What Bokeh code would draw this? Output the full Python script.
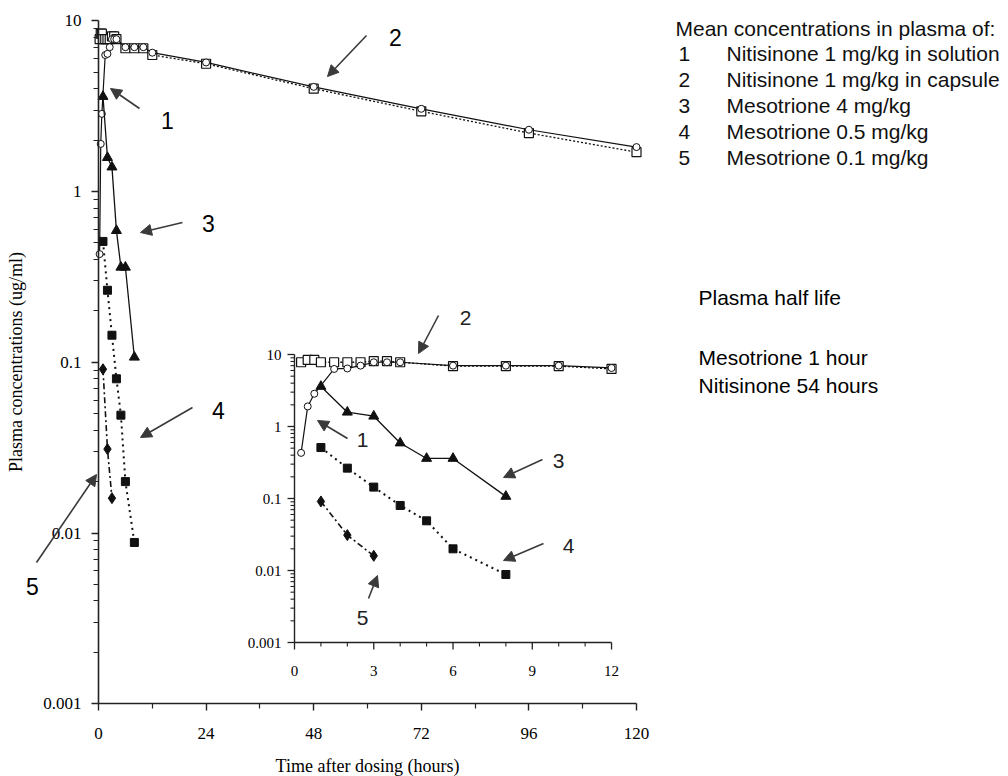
import numpy as np
from bokeh.plotting import figure
from bokeh.models import (Range1d, LogScale, FixedTicker, CustomJSTickFormatter,
                          Label, Arrow, NormalHead)
from bokeh.embed import file_html
from bokeh.resources import INLINE
from bokeh.core.properties import value

# ---------------- data ----------------
t_sol = [0.25, 0.5, 0.75, 1.5, 2, 2.5, 3, 3.5, 4, 6, 8, 10, 12, 24, 48, 72, 96, 120]
c_sol = [0.43, 1.9, 2.85, 6.3, 6.4, 7.0, 7.8, 7.8, 7.8, 7.0, 7.0, 7.0, 6.5, 5.7, 4.1, 3.05, 2.3, 1.82]
t_cap = [0.25, 0.5, 0.75, 1, 1.5, 2, 2.5, 3, 3.5, 4, 6, 8, 10, 12, 24, 48, 72, 96, 120]
c_cap = [7.8, 8.4, 8.4, 7.8, 7.8, 7.8, 7.8, 8.1, 8.1, 7.8, 6.9, 6.9, 6.9, 6.3, 5.6, 4.0, 2.95, 2.2, 1.7]
t_m4 = [1, 2, 3, 4, 5, 6, 8]
c_m4 = [3.6, 1.58, 1.39, 0.59, 0.36, 0.36, 0.107]
t_m05 = [1, 2, 3, 4, 5, 6, 8]
c_m05 = [0.51, 0.264, 0.144, 0.080, 0.049, 0.020, 0.0088]
t_m01 = [1, 2, 3]
c_m01 = [0.091, 0.031, 0.016]

main_x_ticks = [0, 24, 48, 72, 96, 120]
main_x_minor = [12, 36, 60, 84, 108]
y_ticks = [0.001, 0.01, 0.1, 1, 10]
y_tick_labels = ["0.001", "0.01", "0.1", "1", "10"]
inset_x_ticks = [0, 3, 6, 9, 12]
inset_x_labels = ["0", "3", "6", "9", "12"]
legend_title = "Mean concentrations in plasma of:"
legend_nums = ["1", "2", "3", "4", "5"]
legend_texts = ["Nitisinone 1 mg/kg in solution", "Nitisinone 1 mg/kg in capsule",
                "Mesotrione 4 mg/kg", "Mesotrione 0.5 mg/kg", "Mesotrione 0.1 mg/kg"]
half_life = ["Plasma half life", "Mesotrione 1 hour", "Nitisinone 54 hours"]

# ---------------- layout constants (page pixels) ----------------
W, H = 1008, 776              # canvas = frame
PL, PT = 0, 0                 # page position of the canvas
X0, PXH = 98.0, 4.4833        # main: page x of t=0, px per hour
Y1, PXD = 191.0, 170.75       # main: page y of 1 ug/ml, px per decade
IX0, IPXH = 294.0, 26.42      # inset: page x of t=0, px per hour
IY1, IPXD = 426.0, 72.0       # inset: page y of 1 ug/ml, px per decade

def mpt(X, Y):
    return (X - X0) / PXH, 10 ** ((Y1 - Y) / PXD)

def ipt(X, Y):
    return (X - IX0) / IPXH, 10 ** ((IY1 - Y) / IPXD)

mx0, my1 = mpt(PL, PT)
mx1, my0 = mpt(PL + W, PT + H)
ix0, iy1 = ipt(PL, PT)
ix1, iy0 = ipt(PL + W, PT + H)

SERIF = value("Liberation Serif")
INK = "#111111"

p = figure(frame_width=W, frame_height=H,
           x_range=Range1d(mx0, mx1), y_range=Range1d(my0, my1),
           y_axis_type="log", output_backend="svg", toolbar_location=None,
           min_border=0, min_border_left=0, min_border_right=0,
           min_border_top=0, min_border_bottom=0,
           background_fill_color="white", border_fill_color="white")
p.outline_line_color = None
p.grid.visible = False

p.extra_x_ranges = {"ix": Range1d(ix0, ix1)}
p.extra_y_ranges = {"iy": Range1d(iy0, iy1)}
p.extra_y_scales = {"iy": LogScale()}

# main axes (library axes pinned at t=0 and 0.001 ug/ml)
xa = p.xaxis[0]
xa.ticker = FixedTicker(ticks=main_x_ticks, minor_ticks=main_x_minor)
xa.bounds = (0, 120)
xa.fixed_location = 0.001
xa.axis_label = "Time after dosing (hours)"
ya = p.yaxis[0]
ya.ticker = FixedTicker(ticks=y_ticks,
                        minor_ticks=[k * 10.0 ** d for d in range(-3, 1) for k in range(2, 10)])
ya.formatter = CustomJSTickFormatter(code="return String(tick)")
ya.bounds = (0.001, 10)
ya.fixed_location = 0
ya.axis_label = "Plasma concentrations (ug/ml)"
for ax in (xa, ya):
    ax.axis_line_color = "#222222"
    ax.axis_line_width = 1.6
    ax.major_tick_line_color = "#222222"
    ax.minor_tick_line_color = "#222222"
    ax.major_tick_line_width = 1.4
    ax.minor_tick_line_width = 1.2
    ax.major_tick_in = 0
    ax.major_tick_out = 7
    ax.minor_tick_in = 0
    ax.minor_tick_out = 5
    ax.major_label_text_font = "Liberation Serif"
    ax.major_label_text_font_size = "17px"
    ax.major_label_text_color = "black"
    ax.axis_label_text_font = "Liberation Serif"
    ax.axis_label_text_font_size = "18px"
    ax.axis_label_text_font_style = "normal"
    ax.axis_label_text_color = "black"
xa.major_label_standoff = 17
xa.axis_label_standoff = 14
ya.major_label_standoff = 10
ya.axis_label_standoff = 14

# ---------------- series ----------------
def draw(rng, tmax, sz):
    kw = {} if rng is None else dict(x_range_name="ix", y_range_name="iy")
    def sel(t, c):
        tt = [a for a in t if a <= tmax]
        return tt, c[:len(tt)]
    t, c = sel(t_cap, c_cap)
    p.line(t, c, line_color=INK, line_width=1.3, line_dash="2 2", **kw)
    p.scatter(t, c, marker="square", size=sz + 1, fill_color="white", line_color=INK, line_width=1.2, **kw)
    t, c = sel(t_sol, c_sol)
    p.line(t, c, line_color=INK, line_width=1.2, **kw)
    p.scatter(t, c, marker="circle", size=sz - 1, fill_color="white", line_color=INK, line_width=1.0, **kw)
    p.line(t_m4, c_m4, line_color=INK, line_width=1.3, **kw)
    p.scatter(t_m4, c_m4, marker="triangle", size=sz + 2, fill_color=INK, line_color=INK, **kw)
    p.line(t_m05, c_m05, line_color=INK, line_width=2.0, line_dash="2 4", **kw)
    p.scatter(t_m05, c_m05, marker="square", size=sz, fill_color=INK, line_color=INK, **kw)
    p.line(t_m01, c_m01, line_color=INK, line_width=1.6, line_dash="6 3 2 3", **kw)
    p.scatter(t_m01, c_m01, marker="diamond", size=sz + 3, fill_color=INK, line_color=INK, **kw)

draw(None, 200, 8)
draw("ix", 12, 8)

# ---------------- inset axes (drawn) ----------------
IK = dict(x_range_name="ix", y_range_name="iy")
p.segment(x0=[0, 0], y0=[0.001, 0.001], x1=[0, 12], y1=[10, 0.001],
          line_color="#222222", line_width=1.4, **IK)
y_minor = [k * 10.0 ** d for d in range(-3, 1) for k in range(2, 10)]
p.ray(x=[0] * len(y_ticks), y=y_ticks, length=7, angle=np.pi, length_units="screen",
      line_color="#222222", line_width=1.3, **IK)
p.ray(x=[0] * len(y_minor), y=y_minor, length=4, angle=np.pi, length_units="screen",
      line_color="#222222", line_width=1.1, **IK)
x_minor = [h for h in range(13) if h % 3]
p.ray(x=inset_x_ticks, y=[0.001] * len(inset_x_ticks), length=7, angle=-np.pi / 2,
      length_units="screen", line_color="#222222", line_width=1.3, **IK)
p.ray(x=x_minor, y=[0.001] * len(x_minor), length=4, angle=-np.pi / 2,
      length_units="screen", line_color="#222222", line_width=1.1, **IK)
p.text(x=[0] * len(y_ticks), y=y_ticks, text=y_tick_labels, x_offset=-13,
       text_align="right", text_baseline="middle", text_font=SERIF,
       text_font_size="15px", text_color="black", **IK)
p.text(x=inset_x_ticks, y=[0.001] * len(inset_x_ticks), text=inset_x_labels, y_offset=28,
       text_align="center", text_baseline="middle", text_font=SERIF,
       text_font_size="15px", text_color="black", **IK)

# ---------------- annotations ----------------
ARROW_C = "#3a3a3a"

def arrow(fn, tail, head, rng=False):
    (xs, ys), (xe, ye) = fn(*tail), fn(*head)
    kw = IK if rng else {}
    p.add_layout(Arrow(x_start=xs, y_start=ys, x_end=xe, y_end=ye,
                       line_color=ARROW_C, line_width=1.6,
                       end=NormalHead(size=11, fill_color=ARROW_C, line_color=ARROW_C),
                       **kw))

def label(fn, X, Y, text, size, rng=False, align="center", color="black"):
    x, y = fn(X, Y)
    kw = IK if rng else {}
    p.add_layout(Label(x=x, y=y, text=text, text_align=align, text_baseline="middle",
                       text_font="Liberation Sans", text_font_size=size, text_color=color, **kw))

# main chart pointers
label(mpt, 395, 37, legend_nums[1], "23px")
arrow(mpt, (366, 35), (327, 76))
label(mpt, 167, 120, legend_nums[0], "23px")
arrow(mpt, (139, 108), (110, 88))
label(mpt, 208, 223, legend_nums[2], "23px")
arrow(mpt, (182, 222), (140, 232))
label(mpt, 218, 410, legend_nums[3], "23px")
arrow(mpt, (192, 407), (140, 437))
label(mpt, 32, 586, legend_nums[4], "23px")
arrow(mpt, (36, 562), (96, 474))

# inset pointers
label(ipt, 465, 317, legend_nums[1], "21px", True, color="#222222")
arrow(ipt, (438, 315), (418, 353), True)
label(ipt, 362, 439, legend_nums[0], "21px", True, color="#222222")
arrow(ipt, (347, 438), (317, 420), True)
label(ipt, 558, 460, legend_nums[2], "21px", True, color="#222222")
arrow(ipt, (542, 459), (503, 477), True)
label(ipt, 568, 545, legend_nums[3], "21px", True, color="#222222")
arrow(ipt, (543, 543), (503, 560), True)
label(ipt, 362, 617, legend_nums[4], "21px", True, color="#222222")
arrow(ipt, (368, 598), (377, 575), True)

# legend block (text)
label(mpt, 675, 28, legend_title, "21px", align="left", color="#111111")
for i, (n, s) in enumerate(zip(legend_nums, legend_texts)):
    Y = 53 + 26 * i
    label(mpt, 678, Y, n, "21px", align="left", color="#111111")
    label(mpt, 726, Y, s, "21px", align="left", color="#111111")

# half-life block
label(mpt, 698, 297, half_life[0], "21px", align="left")
label(mpt, 698, 357, half_life[1], "21px", align="left")
label(mpt, 698, 385, half_life[2], "21px", align="left")

open("out.html", "w").write(file_html(p, INLINE))
